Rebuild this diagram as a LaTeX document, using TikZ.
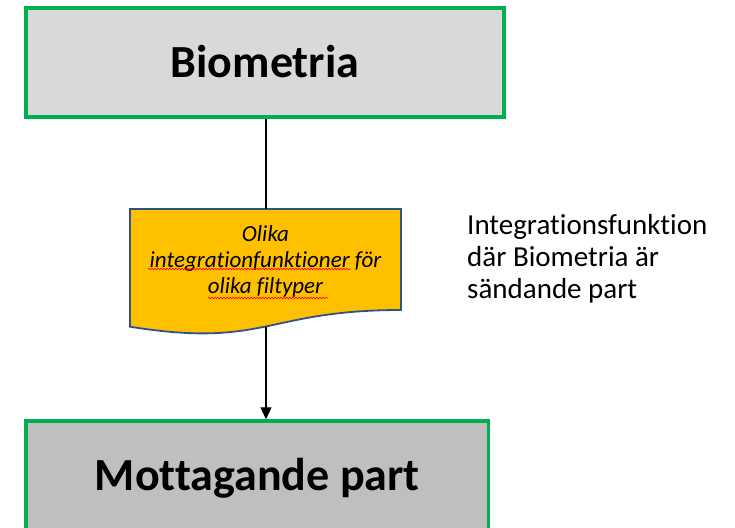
\documentclass[tikz,border=0pt]{standalone}
\usepackage{fontspec}
\setmainfont{Carlito}[Ligatures={NoCommon}]
\usetikzlibrary{arrows.meta,decorations.pathmorphing,calc}
\definecolor{boxgreen}{HTML}{00B050}
\definecolor{lightgrey}{HTML}{D9D9D9}
\definecolor{midgrey}{HTML}{BFBFBF}
\definecolor{docfill}{HTML}{FFC000}
\definecolor{docline}{HTML}{2F528F}
\tikzset{
 entity/.style={draw=boxgreen, line width=3.5pt, minimum width=478pt, minimum height=108.5pt, font=\fontsize{46}{55}\selectfont\bfseries, text height=29.6pt, text depth=0pt, inner sep=0pt},
 docshape/.style={fill=docfill, draw=docline, line width=1.8pt},
 doctext/.style={font=\fontsize{23}{26}\selectfont\itshape, align=center, inner sep=0pt},
 note/.style={font=\fontsize{29}{32}\selectfont, align=left, inner sep=0pt, anchor=north west},
 link/.style={line width=1.1pt, draw=black},
 spell/.style={draw=red, line width=0.6pt, decorate, decoration={snake, amplitude=0.8pt, segment length=3pt}}
}
\begin{document}
\begin{tikzpicture}[x=1pt,y=-1pt]
\useasboundingbox (0,0) rectangle (735,527);
\clip (0,0) rectangle (735,527);
\node[entity, fill=lightgrey] (src) at (265,62.5) {Biometria};
\node[entity, fill=midgrey, minimum width=462.5pt] (dst) at (257.25,475.25) {Mottagande part};
\draw[docshape] (130,209) -- (401,209) -- (401,310) .. controls (265.5,310) and (265.5,348.5) .. (130,326.7) -- cycle;
\coordinate (docTop) at (266,209);
\coordinate (docBot) at (266,326.5);
\node[doctext] (doc) at (265.5,261) {Olika\\integrationfunktioner för\\olika filtyper};
\draw[spell] (148,269) -- (350,269);
\draw[spell] (208,298) -- (328,298);
\node[note] (note) at (467,214.5) {Integrationsfunktion\\där Biometria är\\sändande part};
\draw[link] (src.south -| docTop) -- (docTop);
\draw[link, -{Triangle[length=12pt,width=11pt]}] (docBot) -- (docBot |- dst.north);
\end{tikzpicture}
\end{document}
